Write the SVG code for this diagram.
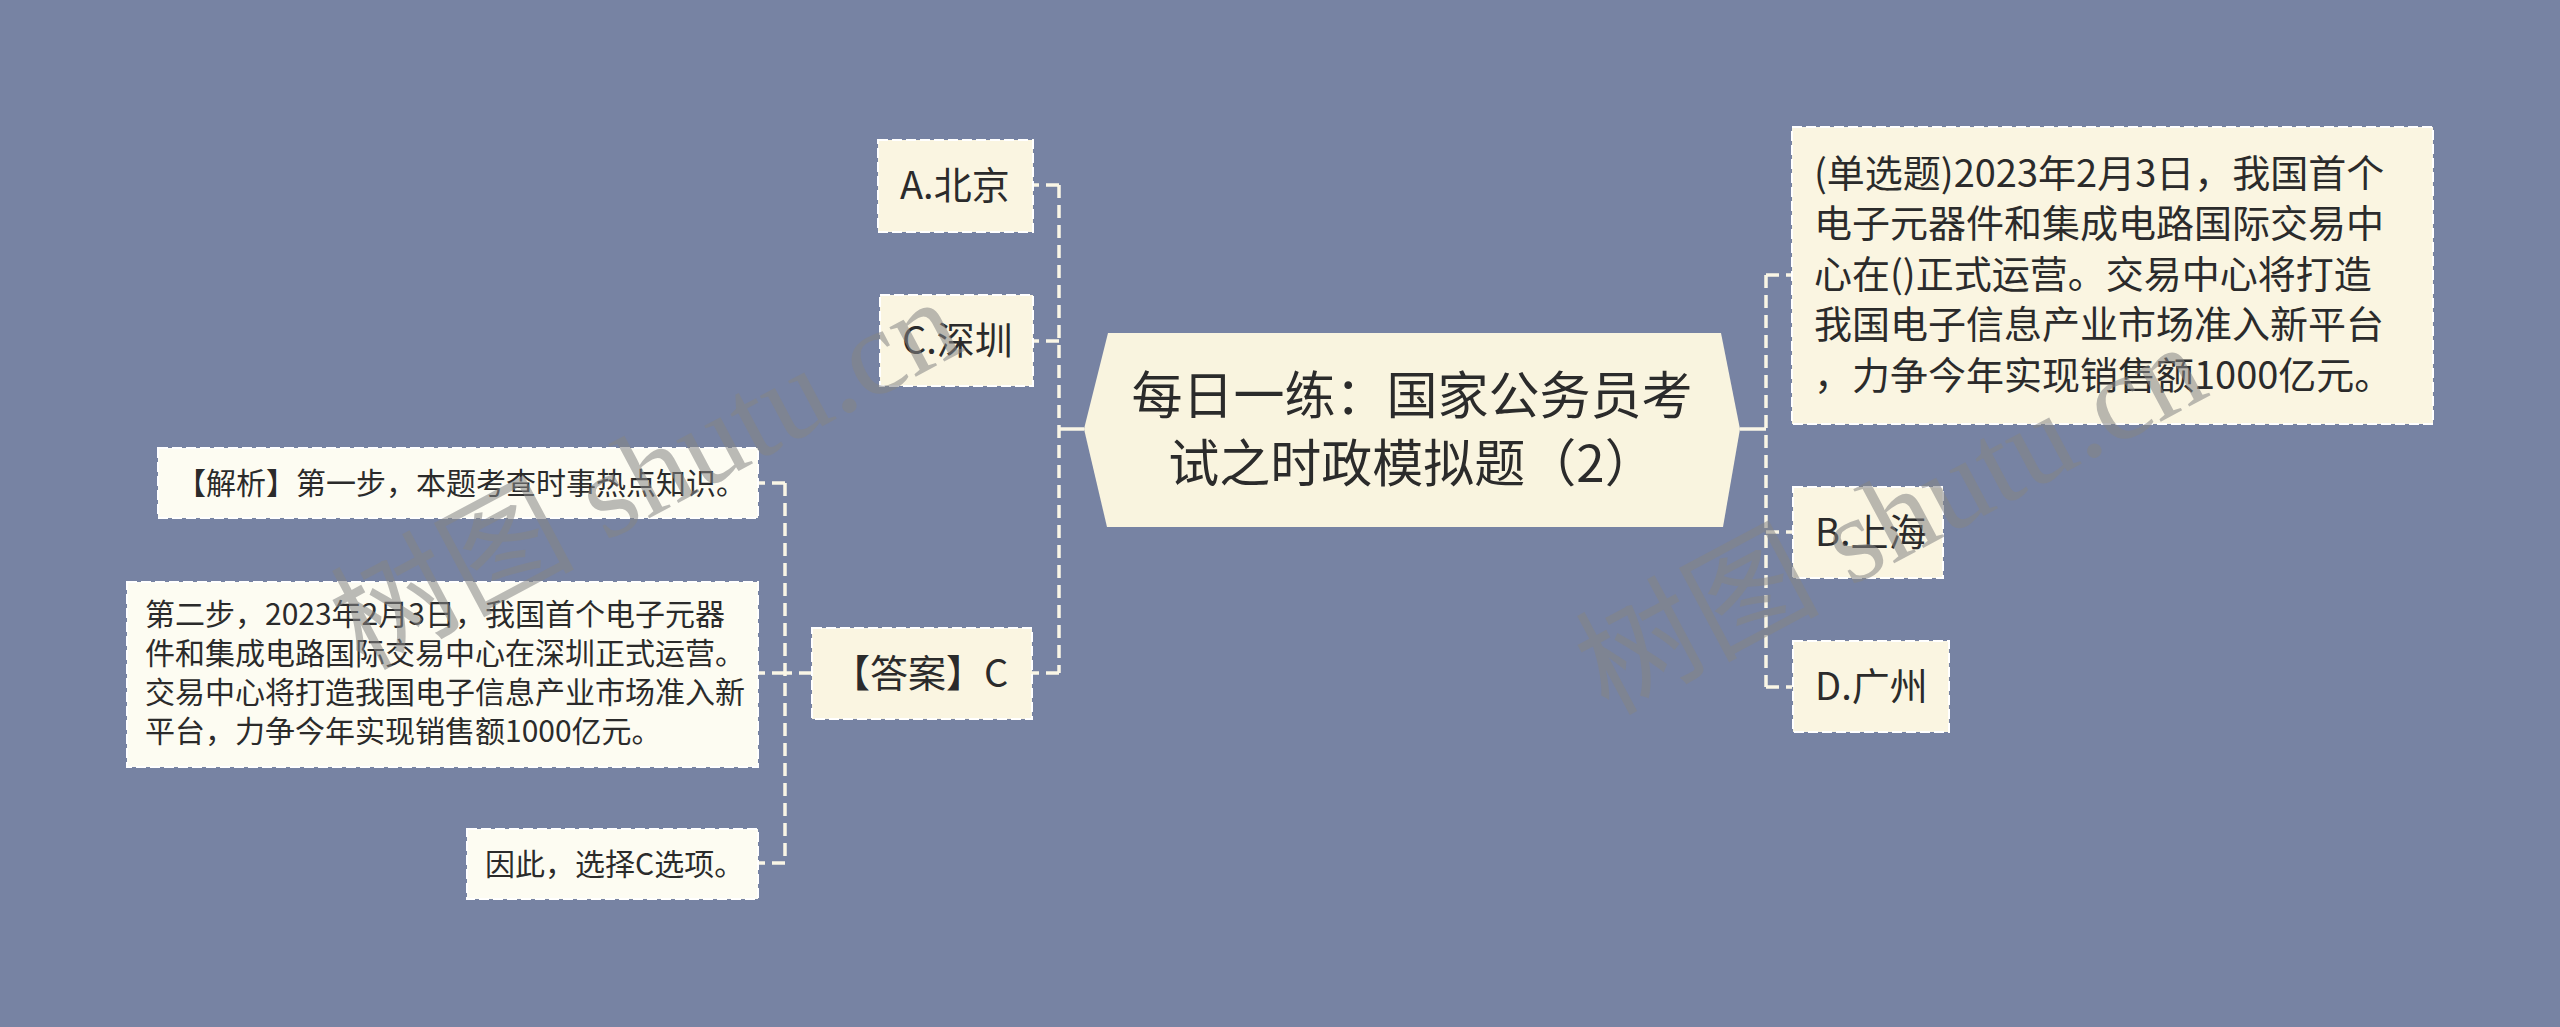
<svg xmlns="http://www.w3.org/2000/svg" width="2560" height="1027" viewBox="0 0 2560 1027">
<style>
.t{font-family:"Noto Sans CJK SC","Liberation Sans",sans-serif;fill:#2b2b2b}
.box{fill:#FAF5E1;stroke:#FFFFFF;stroke-width:2;stroke-dasharray:10 4}
.boxw{fill:#FDFCF2;stroke:#FFFFFF;stroke-width:2;stroke-dasharray:10 4}
.c{fill:none;stroke:#FAF6E6;stroke-width:3.5;stroke-dasharray:13 7}
.cs{fill:none;stroke:#FAF6E6;stroke-width:3.5}
.wm{font-family:"Liberation Serif","Noto Sans CJK SC",serif;font-size:122px;fill:#858585;opacity:0.55}
</style>
<rect width="2560" height="1027" fill="#7783A3"/>
<g id="connectors">
<path class="cs" d="M1084,429 H1059"/>
<path class="c" d="M1059,185 V673"/>
<path class="c" d="M1059,185 H1033"/>
<path class="c" d="M1059,341 H1033"/>
<path class="c" d="M1059,673 H1032"/>
<path class="c" d="M812,673 H785"/>
<path class="c" d="M785,483 V863"/>
<path class="c" d="M785,483 H758"/>
<path class="c" d="M785,673 H758"/>
<path class="c" d="M785,863 H758"/>
<path class="cs" d="M1740,429 H1766"/>
<path class="c" d="M1766,275 V687"/>
<path class="c" d="M1766,275 H1792"/>
<path class="c" d="M1766,532 H1792"/>
<path class="c" d="M1766,687 H1792"/>
</g>
<g id="root">
<polygon points="1108,333 1721,333 1740,429 1723,527 1107,527 1084,429" fill="#F9F4DF"/>
<text class="t" x="1412" y="414" font-size="51" text-anchor="middle">每日一练：国家公务员考</text>
<text class="t" x="1412" y="482" font-size="51" text-anchor="middle">试之时政模拟题（2）</text>
</g>
<g id="optA">
<rect class="box" x="878" y="140" width="155" height="92"/>
<text class="t" x="900" y="199" font-size="38">A.北京</text>
</g>
<g id="optC">
<rect class="box" x="880" y="295" width="153" height="91"/>
<text class="t" x="902" y="354" font-size="38">C.深圳</text>
</g>
<g id="answer">
<rect class="box" x="812" y="628" width="220" height="91"/>
<text class="t" x="832" y="687" font-size="38">【答案】C</text>
</g>
<g id="analysis1">
<rect class="boxw" x="158" y="448" width="600" height="70"/>
<text class="t" x="176" y="494" font-size="30">【解析】第一步，本题考查时事热点知识。</text>
</g>
<g id="analysis2">
<rect class="boxw" x="127" y="582" width="631" height="185"/>
<text class="t" x="145" y="625" font-size="30">第二步，2023年2月3日，我国首个电子元器</text>
<text class="t" x="145" y="664" font-size="30">件和集成电路国际交易中心在深圳正式运营。</text>
<text class="t" x="145" y="703" font-size="30">交易中心将打造我国电子信息产业市场准入新</text>
<text class="t" x="145" y="742" font-size="30">平台，力争今年实现销售额1000亿元。</text>
</g>
<g id="analysis3">
<rect class="boxw" x="467" y="829" width="291" height="70"/>
<text class="t" x="485" y="875" font-size="30">因此，选择C选项。</text>
</g>
<g id="question">
<rect class="box" x="1792" y="127" width="641" height="297"/>
<text class="t" x="1814" y="187" font-size="38">(单选题)2023年2月3日，我国首个</text>
<text class="t" x="1814" y="237" font-size="38">电子元器件和集成电路国际交易中</text>
<text class="t" x="1814" y="288" font-size="38">心在()正式运营。交易中心将打造</text>
<text class="t" x="1814" y="338" font-size="38">我国电子信息产业市场准入新平台</text>
<text class="t" x="1814" y="389" font-size="38">，力争今年实现销售额1000亿元。</text>
</g>
<g id="optB">
<rect class="box" x="1793" y="487" width="150" height="91"/>
<text class="t" x="1815" y="546" font-size="38">B.上海</text>
</g>
<g id="optD">
<rect class="box" x="1793" y="641" width="156" height="91"/>
<text class="t" x="1815" y="700" font-size="38">D.广州</text>
</g>
<g id="watermarks">
<text class="wm" x="665" y="510" text-anchor="middle" transform="rotate(-28 665 510)">树图 shutu.cn</text>
<text class="wm" x="1910" y="555" text-anchor="middle" transform="rotate(-28 1910 555)">树图 shutu.cn</text>
</g>
</svg>
